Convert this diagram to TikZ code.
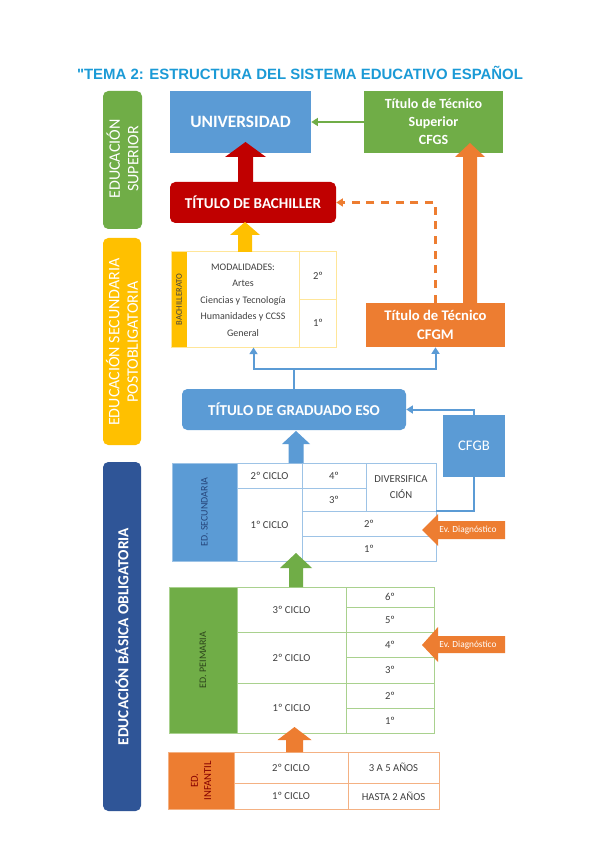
\documentclass[tikz,border=0pt]{standalone}
\usepackage{fontspec}
\setmainfont{Carlito}
\newfontfamily\titlefont{Liberation Sans}
\usetikzlibrary{arrows.meta}
\definecolor{cblue}{HTML}{5B9BD5}
\definecolor{cgreen}{HTML}{70AD47}
\definecolor{corange}{HTML}{ED7D31}
\definecolor{cyellow}{HTML}{FFC000}
\definecolor{cred}{HTML}{C00000}
\definecolor{cdblue}{HTML}{2F5597}
\definecolor{ctitle}{HTML}{1B9AD6}
\definecolor{tgray}{HTML}{404040}
\definecolor{lblue}{HTML}{9DC3E6}
\definecolor{lgreen}{HTML}{A9D18E}
\definecolor{lorange}{HTML}{F4B183}
\definecolor{lyellow}{HTML}{FFE699}
\def\pxu{0.75pt}
\newcommand\blockup[7]{\fill[#7] (#1-#2,#4) -- (#1-#2,#5) -- (#1-#3,#5) -- (#1,#6) -- (#1+#3,#5) -- (#1+#2,#5) -- (#1+#2,#4) -- cycle;}
\begin{document}
\begin{tikzpicture}[x=0.75pt,y=-0.75pt,
  boxst/.style={inner sep=0pt,text=white,align=center},
  sidebar/.style={rounded corners=4pt,inner sep=0pt},
  sidelabel/.style={rotate=90,inner sep=0pt,text=white,align=center},
  tabtxt/.style={inner sep=0pt,text=tgray,font=\fontsize{8}{9.6}\selectfont,align=center},
  sidetxt/.style={inner sep=0pt,rotate=90,font=\fontsize{7.5}{9}\selectfont,align=center},
  thinarrow/.style={line width=1.5pt,-{Triangle[length=5pt,width=6pt]}},
  tabline/.style={line width=0.75pt},
  evtxt/.style={inner sep=0pt,text=white,font=\fontsize{7}{8}\selectfont}]
\useasboundingbox (0,0) rectangle (600,848);
\fill[white] (0,0) rectangle (600,848);

% title
\node[inner sep=0pt,text=ctitle,font=\titlefont\bfseries\fontsize{11.2}{13}\selectfont] (title) at (300,73) {"TEMA 2: ESTRUCTURA DEL SISTEMA EDUCATIVO ESPAÑOL};

% sidebars
\node[sidebar,fill=cgreen,minimum width=39*\pxu,minimum height=138*\pxu] (sbsup) at (122.5,160) {};
\node[sidelabel,font=\fontsize{12}{14}\selectfont] (sbsupt) at (122.5,159) {EDUCACIÓN\\SUPERIOR};
\node[sidebar,fill=cyellow,minimum width=38*\pxu,minimum height=207*\pxu] (sbpost) at (122,341.5) {};
\node[sidelabel,font=\fontsize{12}{14}\selectfont] (sbpostt) at (122,342) {EDUCACIÓN SECUNDARIA\\POSTOBLIGATORIA};
\node[sidebar,fill=cdblue,minimum width=38*\pxu,minimum height=349*\pxu] (sbbas) at (122,636.5) {};
\node[sidelabel,font=\bfseries\fontsize{11.5}{13.5}\selectfont] (sbbast) at (122,636.5) {EDUCACIÓN BÁSICA OBLIGATORIA};

% top boxes
\node[boxst,fill=cblue,minimum width=141*\pxu,minimum height=62*\pxu,font=\bfseries\fontsize{13}{15}\selectfont] (univ) at (240.5,122) {UNIVERSIDAD};
\node[boxst,fill=cgreen,minimum width=139*\pxu,minimum height=62*\pxu,font=\bfseries\fontsize{10.5}{13.5}\selectfont] (tsup) at (433.5,122) {Título de Técnico\\Superior\\CFGS};
\node[boxst,fill=cred,rounded corners=4pt,minimum width=166*\pxu,minimum height=41*\pxu,font=\bfseries\fontsize{11.3}{13}\selectfont] (bach) at (253,202.5) {TÍTULO DE BACHILLER};
\node[boxst,fill=corange,minimum width=139*\pxu,minimum height=44*\pxu,font=\bfseries\fontsize{11}{14}\selectfont] (cfgm) at (435.5,325) {Título de Técnico\\CFGM};
\node[boxst,fill=cblue,rounded corners=4pt,minimum width=224*\pxu,minimum height=41*\pxu,font=\bfseries\fontsize{11.3}{13}\selectfont] (grad) at (294,409.5) {TÍTULO DE GRADUADO ESO};
\node[boxst,fill=cblue,minimum width=62*\pxu,minimum height=62*\pxu,font=\fontsize{11}{13}\selectfont] (cfgb) at (474,446) {CFGB};

% Bachillerato table
\fill[cyellow] (171,252) rectangle (187,347);
\node[draw=lyellow,tabline,inner sep=0pt,minimum width=165*\pxu,minimum height=95*\pxu] (bachtab) at (253.5,299.5) {};
\draw[lyellow,tabline] (299,252) -- (299,347) (299,299) -- (336,299);
\node[sidetxt,text=tgray,font=\fontsize{6.5}{8}\selectfont] (bachlab) at (179,299.5) {BACHILLERATO};
\node[tabtxt,font=\fontsize{7.5}{12.4}\selectfont] (modal) at (243,300) {MODALIDADES:\\Artes\\Ciencias y Tecnología\\Humanidades y CCSS\\General};
\node[tabtxt] (b2) at (318,276) {2º};
\node[tabtxt] (b1) at (318,323) {1º};

% ESO table
\fill[cblue] (172,463) rectangle (237,561);
\node[draw=lblue,tabline,inner sep=0pt,minimum width=264*\pxu,minimum height=98*\pxu] (esotab) at (304,512) {};
\draw[lblue,tabline] (237,463) -- (237,561) (302,463) -- (302,561) (366,463) -- (366,511)
  (237,488) -- (366,488) (302,511) -- (436,511) (302,536) -- (436,536);
\node[sidetxt,text=cdblue!80!black] (esolab) at (204.5,512) {ED. SECUNDARIA};
\node[tabtxt] (e2c) at (269.5,475.5) {2º CICLO};
\node[tabtxt] (e1c) at (269.5,524.5) {1º CICLO};
\node[tabtxt] (e4) at (334,475.5) {4º};
\node[tabtxt] (e3) at (334,499.5) {3º};
\node[tabtxt,font=\fontsize{8}{12}\selectfont] (ediv) at (401,487) {DIVERSIFICA\\CIÓN};
\node[tabtxt] (e2) at (369,523.5) {2º};
\node[tabtxt] (e1) at (369,548.5) {1º};

% Primaria table
\fill[cgreen] (169,587) rectangle (237,733);
\node[draw=lgreen,tabline,inner sep=0pt,minimum width=265*\pxu,minimum height=146*\pxu] (pritab) at (301.5,660) {};
\draw[lgreen,tabline] (237,587) -- (237,733) (346,587) -- (346,733)
  (237,632) -- (434,632) (237,683) -- (434,683)
  (346,607) -- (434,607) (346,657) -- (434,657) (346,708) -- (434,708);
\node[sidetxt,text=cgreen!40!black] (prilab) at (203,660) {ED. PEIMARIA};
\node[tabtxt] (p3c) at (291.5,609.5) {3º CICLO};
\node[tabtxt] (p2c) at (291.5,657.5) {2º CICLO};
\node[tabtxt] (p1c) at (291.5,708) {1º CICLO};
\node[tabtxt] (p6) at (390,597) {6º};
\node[tabtxt] (p5) at (390,619.5) {5º};
\node[tabtxt] (p4) at (390,644.5) {4º};
\node[tabtxt] (p3) at (390,670) {3º};
\node[tabtxt] (p2) at (390,695.5) {2º};
\node[tabtxt] (p1) at (390,720.5) {1º};

% Infantil table
\fill[corange] (168,752) rectangle (234,809);
\node[draw=lorange,tabline,inner sep=0pt,minimum width=271*\pxu,minimum height=57*\pxu] (inftab) at (303.5,780.5) {};
\draw[lorange,tabline] (234,752) -- (234,809) (348,752) -- (348,809) (234,783) -- (439,783);
\node[sidetxt,text=cred!70!black,font=\fontsize{8}{10}\selectfont] (inflab) at (201,780.5) {ED.\\INFANTIL};
\node[tabtxt] (i2c) at (291,767.5) {2º CICLO};
\node[tabtxt] (i1c) at (291,796) {1º CICLO};
\node[tabtxt] (i35) at (393.5,767.5) {3 A 5 AÑOS};
\node[tabtxt] (ih2) at (393.5,796) {HASTA 2 AÑOS};

% block arrows
\blockup{245.5}{7.5}{20.5}{182}{157}{142}{cred}
\blockup{245}{7}{15}{252}{235}{222}{cyellow}
\blockup{470}{7}{15}{303}{157}{143}{corange}
\blockup{296}{7.5}{14}{463}{444}{431}{cblue}
\blockup{296}{7}{16}{587}{568}{553}{cgreen}
\blockup{294.5}{8.5}{17}{752}{740}{727}{corange}

% Ev. Diagnostico arrows
\fill[corange] (422,530) -- (438,514) -- (438,521) -- (505,521) -- (505,539) -- (438,539) -- (438,546) -- cycle;
\node[evtxt] (ev1) at (468,530) {Ev. Diagnóstico};
\fill[corange] (422,645) -- (438,627) -- (438,636) -- (505,636) -- (505,653) -- (438,653) -- (438,662) -- cycle;
\node[evtxt] (ev2) at (468,645) {Ev. Diagnóstico};

% connectors
\draw[thinarrow,cgreen] (tsup.west) -- (univ.east);
\draw[corange,line width=2pt,dash pattern=on 6pt off 5pt,-{Triangle[length=5pt,width=6pt]}] (cfgm.north) |- (bach.east);
\coordinate (split) at (294,369);
\draw[cblue,line width=1.5pt] (grad.north) -- (split);
\draw[thinarrow,cblue] (split) -| (bachtab.south);
\draw[thinarrow,cblue] (split) -| (cfgm.south);
\draw[thinarrow,cblue] (cfgb.north) |- (grad.east);
\coordinate (esoj) at (436,511);
\draw[cblue,line width=1.5pt] (cfgb.south) |- (esoj);
\end{tikzpicture}
\end{document}
